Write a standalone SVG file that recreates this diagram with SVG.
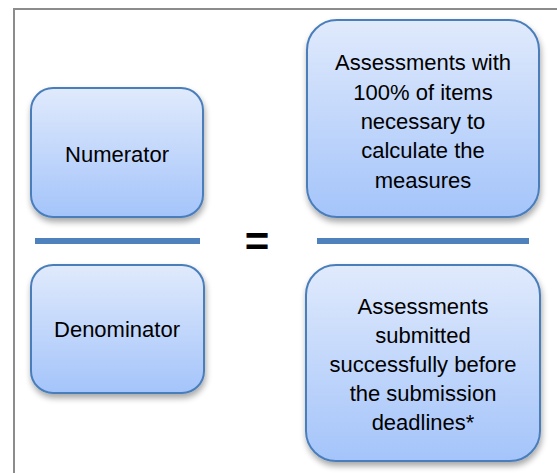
<svg xmlns="http://www.w3.org/2000/svg" width="557" height="473" viewBox="0 0 557 473">
<style>
.box{fill:url(#g);stroke:#4a7ebb;stroke-width:2;filter:url(#sh)}
.t{font-family:"Liberation Sans",Arial,sans-serif;font-size:22px;fill:#000;text-anchor:middle}
.bar{stroke:#4f81bd;stroke-width:6}
</style>
<defs>
<linearGradient id="g" x1="0" y1="0" x2="0" y2="1">
<stop offset="0" stop-color="#e0eafc"/>
<stop offset="1" stop-color="#a4c4fa"/>
</linearGradient>
<filter id="sh" x="-10%" y="-10%" width="125%" height="130%">
<feGaussianBlur in="SourceAlpha" stdDeviation="3"/>
<feOffset dx="1" dy="4" result="b"/>
<feComponentTransfer><feFuncA type="linear" slope="0.35"/></feComponentTransfer>
<feMerge><feMergeNode/><feMergeNode in="SourceGraphic"/></feMerge>
</filter>
</defs>
<rect x="0" y="0" width="557" height="473" fill="#fff"/>
<rect x="14" y="9" width="560" height="480" fill="none" stroke="#8c8c8c" stroke-width="2"/>
<g id="connectors">
<line class="bar" x1="35" y1="241" x2="200" y2="241"/>
<line class="bar" x1="317" y1="241" x2="529" y2="241"/>
</g>
<g id="numerator">
<rect class="box" x="31" y="88" width="172" height="129" rx="22"/>
<text class="t" x="117" y="162">Numerator</text>
</g>
<g id="denominator">
<rect class="box" x="31" y="265" width="173" height="128" rx="22"/>
<text class="t" x="117" y="337">Denominator</text>
</g>
<g id="equals">
<text x="257" y="256" style="font-family:'Liberation Sans',Arial,sans-serif;font-size:42px;font-weight:bold;text-anchor:middle">=</text>
</g>
<g id="numerator-def">
<rect class="box" x="307" y="20" width="232" height="197" rx="30"/>
<text class="t" x="423" y="70">Assessments with</text>
<text class="t" x="423" y="99.5">100% of items</text>
<text class="t" x="423" y="129">necessary to</text>
<text class="t" x="423" y="158">calculate the</text>
<text class="t" x="423" y="187.5">measures</text>
</g>
<g id="denominator-def">
<rect class="box" x="306" y="265" width="234" height="196" rx="30"/>
<text class="t" x="423" y="314">Assessments</text>
<text class="t" x="423" y="343">submitted</text>
<text class="t" x="423" y="372">successfully before</text>
<text class="t" x="423" y="401">the submission</text>
<text class="t" x="423" y="430">deadlines*</text>
</g>
</svg>
